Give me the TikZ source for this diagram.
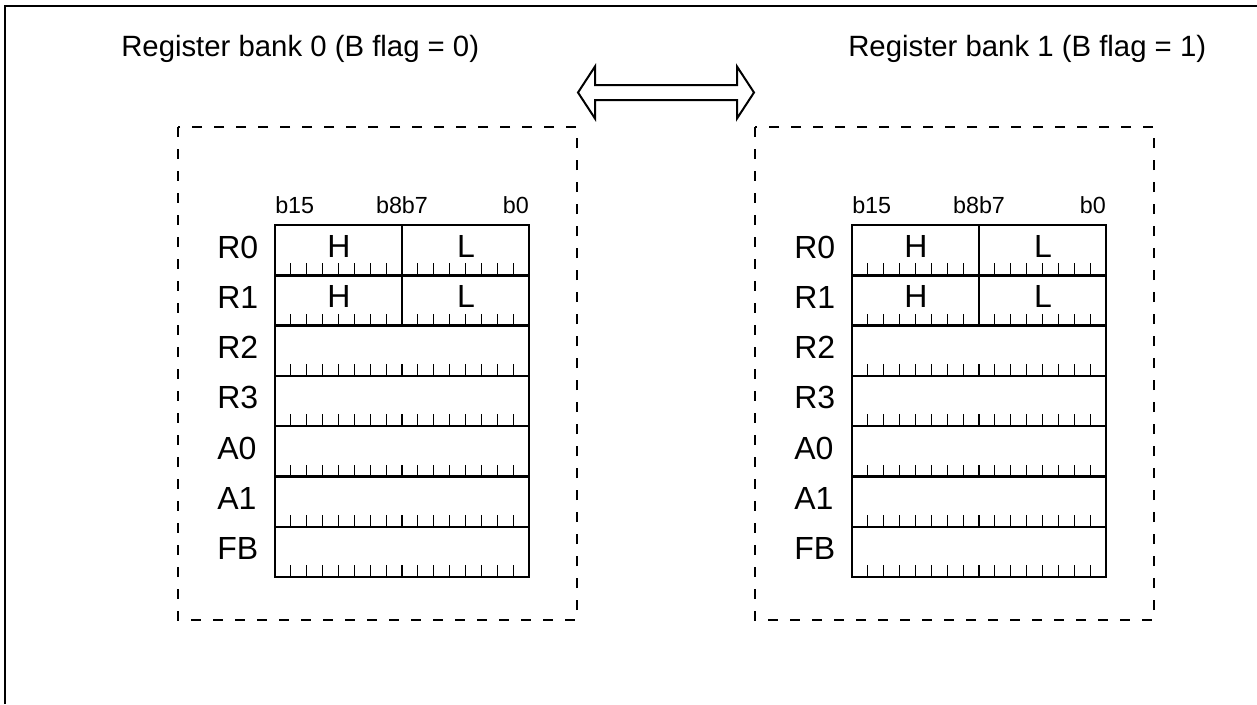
\documentclass[tikz,border=0pt]{standalone}
\usepackage{fontspec}
\setmainfont{Liberation Sans}
\usetikzlibrary{positioning}
\tikzset{
  regbox/.style={line width=1.8pt},
  bittick/.style={line width=0.9pt},
  bankframe/.style={line width=1pt, dash pattern=on 7.5pt off 9pt},
  reglbl/.style={anchor=base west, inner sep=0pt, font=\fontsize{24}{28}\selectfont},
  halflbl/.style={anchor=base, inner sep=0pt, font=\fontsize{24}{28}\selectfont},
  bitlbl/.style={inner sep=0pt, font=\fontsize{17.5}{21}\selectfont},
  banktitle/.style={anchor=base west, inner sep=0pt, font=\fontsize{22}{26}\selectfont},
}
\begin{document}
\begin{tikzpicture}[x=0.75pt,y=-0.75pt]
\useasboundingbox (0,0) rectangle (1257,704);
% outer frame (only top and left edge are in view)
\draw[line width=1.5pt] (5,704) -- (5,6) -- (1257,6);
% titles
\node[banktitle] (title0) at (121,56) {Register bank 0 (B flag = 0)};
\node[banktitle] (title1) at (848,56) {Register bank 1 (B flag = 1)};
% exchange arrow
\draw[line width=1.5pt, line join=miter] (578,92.5) -- (595,66.5) -- (595,85) -- (737,85) -- (737,66.5) -- (754,92.5)
  -- (737,118.5) -- (737,100) -- (595,100) -- (595,118.5) -- cycle;
% the two banks
\foreach \b/\dx in {0/0,1/577}{
  \draw[bankframe] (178+\dx,127) rectangle (577+\dx,620);
  \node[bitlbl, anchor=base west] (b15-\b) at (275+\dx,213) {b15};
  \node[bitlbl, anchor=base] (b8-\b) at (402+\dx,213) {b8b7};
  \node[bitlbl, anchor=base east] (b0-\b) at (529+\dx,213) {b0};
  \foreach \r [count=\i from 0] in {R0,R1,R2,R3,A0,A1,FB}{
    \coordinate (top-\b-\r) at (275+\dx,225+\i*50.3);
    \coordinate (bot-\b-\r) at (529+\dx,275.3+\i*50.3);
    \draw[regbox] (top-\b-\r) rectangle (bot-\b-\r);
    \node[reglbl] (lbl-\b-\r) at (217+\dx,258+\i*50.3) {\r};
    \foreach \k in {1,...,15}
      \draw[bittick] (275+\dx+\k*15.875,275.3+\i*50.3) -- ++(0,-12);
  }
  % R0 and R1 are split into high and low bytes
  \foreach \r [count=\i from 0] in {R0,R1}{
    \draw[regbox] (402+\dx,225+\i*50.3) -- (402+\dx,275.3+\i*50.3);
    \node[halflbl] (h-\b-\r) at (339+\dx,257+\i*50.3) {H};
    \node[halflbl] (l-\b-\r) at (466+\dx,257+\i*50.3) {L};
  }
}
\end{tikzpicture}
\end{document}
